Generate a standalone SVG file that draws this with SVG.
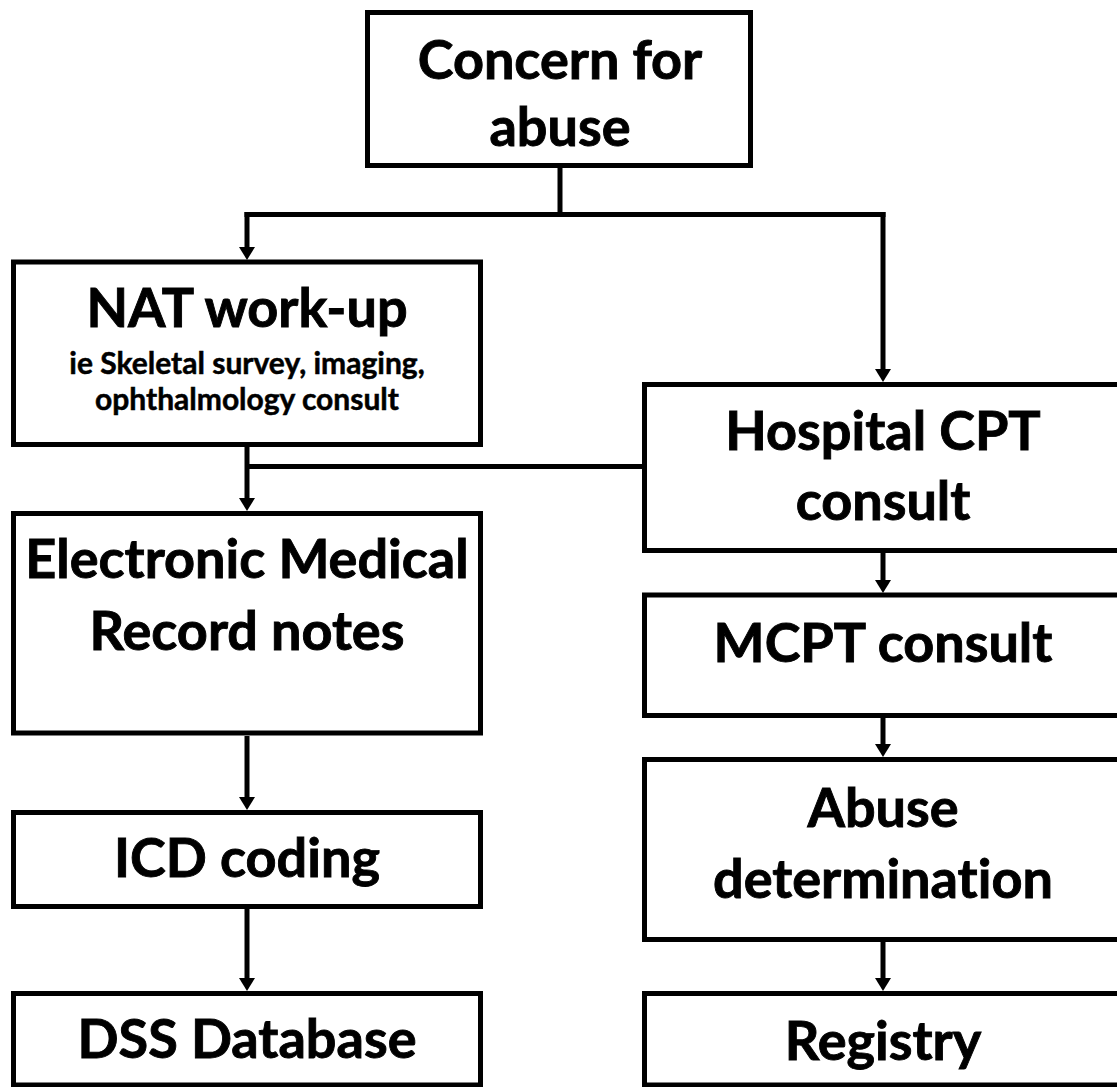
<svg xmlns="http://www.w3.org/2000/svg" width="1117" height="1087" viewBox="0 0 1117 1087">
<style>
.box{fill:#fff;stroke:#000;stroke-width:5}
.ln{fill:none;stroke:#000;stroke-width:5}
.t{font-family:Lato,"Open Sans","Liberation Sans",sans-serif;font-weight:bold;font-size:54px;text-anchor:middle;fill:#000;stroke:#000;stroke-width:0.9;font-variant-ligatures:none}
.s{font-size:30px;stroke-width:0.5}
</style>
<defs>
<marker id="ah" markerUnits="userSpaceOnUse" markerWidth="14" markerHeight="16" refX="3" refY="8" orient="auto" viewBox="0 0 13 16">
<path d="M0,0 L13,8 L0,16 z" fill="#000"/>
</marker>
</defs>
<rect width="1117" height="1087" fill="#fff"/>
<g id="connectors">
<path class="ln" d="M560,168 V214.5"/>
<path class="ln" d="M244.5,214.5 H885.5"/>
<path class="ln" d="M247,212 V250" marker-end="url(#ah)"/>
<path class="ln" d="M883,212 V372" marker-end="url(#ah)"/>
<path class="ln" d="M247,447 V501" marker-end="url(#ah)"/>
<path class="ln" d="M247,466.5 H643"/>
<path class="ln" d="M883,553 V583" marker-end="url(#ah)"/>
<path class="ln" d="M883,718 V747" marker-end="url(#ah)"/>
<path class="ln" d="M247,736 V800" marker-end="url(#ah)"/>
<path class="ln" d="M247,909 V981" marker-end="url(#ah)"/>
<path class="ln" d="M883,942 V981" marker-end="url(#ah)"/>
</g>
<g id="concern">
<rect class="box" x="367.5" y="12.5" width="383" height="153"/>
<text class="t" x="560" y="79">Concern for</text>
<text class="t" x="560" y="146">abuse</text>
</g>
<g id="nat">
<rect class="box" x="13.5" y="262" width="467" height="182.5"/>
<text class="t" x="247" y="327">NAT work-up</text>
<text class="t s" x="247" y="374">ie Skeletal survey, imaging,</text>
<text class="t s" x="247" y="410">ophthalmology consult</text>
</g>
<g id="emr">
<rect class="box" x="13.5" y="513.5" width="467" height="219.5"/>
<text class="t" x="247" y="578">Electronic Medical</text>
<text class="t" x="247" y="650">Record notes</text>
</g>
<g id="icd">
<rect class="box" x="13.5" y="812.5" width="467" height="94"/>
<text class="t" x="247" y="877">ICD coding</text>
</g>
<g id="dss">
<rect class="box" x="13.5" y="993.5" width="467" height="91.5"/>
<text class="t" x="247" y="1058">DSS Database</text>
</g>
<g id="hospital">
<rect class="box" x="644.5" y="384.5" width="477" height="166"/>
<text class="t" x="883" y="450">Hospital CPT</text>
<text class="t" x="883" y="520">consult</text>
</g>
<g id="mcpt">
<rect class="box" x="644.5" y="595" width="477" height="120.5"/>
<text class="t" x="883" y="662">MCPT consult</text>
</g>
<g id="abuse">
<rect class="box" x="644.5" y="759.5" width="477" height="180"/>
<text class="t" x="883" y="827">Abuse</text>
<text class="t" x="883" y="898">determination</text>
</g>
<g id="registry">
<rect class="box" x="644.5" y="993.5" width="477" height="91.5"/>
<text class="t" x="883" y="1060">Registry</text>
</g>
</svg>
